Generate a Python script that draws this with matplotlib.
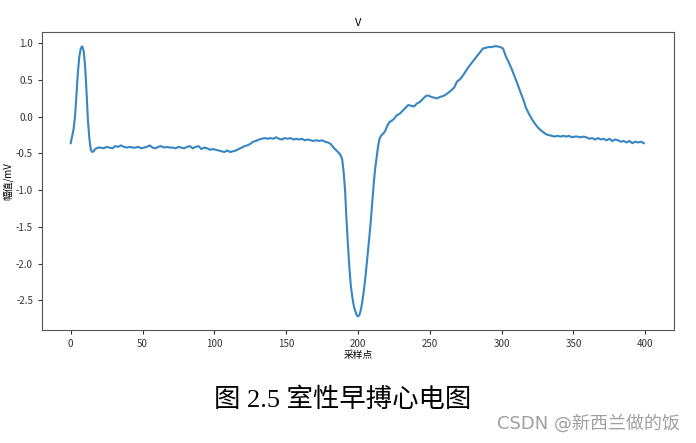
import matplotlib.pyplot as plt

plt.rcParams['font.family'] = ['Noto Sans CJK SC', 'DejaVu Sans']
plt.rcParams['axes.unicode_minus'] = False

# sample index / amplitude (mV)
idx = [0, 2, 3, 4, 5, 6, 7, 8, 9, 10, 11, 12, 13, 14, 15, 16, 17, 19, 21, 23,
       25, 27, 29, 31, 33, 35, 37, 39, 41, 43, 45, 47, 49, 51, 53, 55, 57, 59,
       61, 63, 65, 67, 69, 71, 73, 75, 77, 79, 81, 83, 85, 87, 89, 91, 93, 95,
       97, 99, 101, 103, 105, 107, 109, 111, 113, 115, 117, 119, 121, 123, 125,
       127, 129, 131, 133, 135, 137, 139, 141, 143, 145, 147, 149, 151, 153,
       155, 157, 159, 161, 163, 165, 167, 169, 171, 173, 175, 177, 179, 181,
       183, 185, 187, 188, 189, 190, 191, 192, 193, 194, 195, 196, 197, 198,
       199, 200, 201, 202, 203, 204, 205, 206, 207, 208, 209, 210, 211, 212,
       213, 214, 215, 216, 217, 218, 219, 220, 221, 222, 223, 225, 227, 229,
       231, 233, 235, 237, 239, 241, 243, 245, 247, 249, 251, 253, 255, 257,
       259, 261, 263, 265, 267, 269, 271, 273, 275, 277, 279, 281, 283, 285,
       287, 289, 291, 293, 295, 297, 299, 301, 303, 305, 307, 309, 311, 313,
       315, 317, 319, 321, 323, 325, 327, 329, 331, 333, 335, 337, 339, 341,
       343, 345, 347, 349, 351, 353, 355, 357, 359, 361, 363, 365, 367, 369,
       371, 373, 375, 377, 379, 381, 383, 385, 387, 389, 391, 393, 395, 397,
       399]
amp = [-0.36, -0.17, 0.0, 0.3, 0.6, 0.82, 0.93, 0.96, 0.90, 0.70, 0.35, -0.05,
       -0.30, -0.45, -0.48, -0.47, -0.44, -0.42, -0.42, -0.43, -0.41, -0.42,
       -0.43, -0.40, -0.41, -0.39, -0.41, -0.42, -0.41, -0.42, -0.42, -0.41,
       -0.43, -0.42, -0.41, -0.39, -0.42, -0.43, -0.41, -0.40, -0.42, -0.41,
       -0.42, -0.42, -0.43, -0.41, -0.42, -0.43, -0.41, -0.40, -0.43, -0.41,
       -0.40, -0.44, -0.42, -0.43, -0.45, -0.44, -0.45, -0.46, -0.47, -0.48,
       -0.46, -0.48, -0.47, -0.46, -0.44, -0.42, -0.40, -0.39, -0.37, -0.34,
       -0.33, -0.31, -0.30, -0.29, -0.30, -0.29, -0.30, -0.28, -0.30, -0.31,
       -0.29, -0.30, -0.29, -0.31, -0.30, -0.31, -0.30, -0.32, -0.31, -0.32,
       -0.33, -0.32, -0.33, -0.32, -0.34, -0.35, -0.37, -0.42, -0.46, -0.50,
       -0.53, -0.58, -0.75, -1.0, -1.4, -1.75, -2.05, -2.30, -2.45, -2.57,
       -2.64, -2.70, -2.72, -2.70, -2.63, -2.52, -2.38, -2.22, -2.02, -1.82,
       -1.62, -1.40, -1.15, -0.90, -0.70, -0.55, -0.40, -0.30, -0.26, -0.24,
       -0.22, -0.19, -0.14, -0.10, -0.07, -0.06, -0.03, 0.02, 0.04, 0.08, 0.12,
       0.16, 0.15, 0.14, 0.18, 0.20, 0.24, 0.28, 0.29, 0.27, 0.26, 0.25, 0.27,
       0.28, 0.30, 0.33, 0.36, 0.40, 0.48, 0.51, 0.56, 0.62, 0.68, 0.73, 0.78,
       0.83, 0.88, 0.93, 0.94, 0.95, 0.95, 0.96, 0.96, 0.95, 0.93, 0.82, 0.74,
       0.65, 0.55, 0.45, 0.34, 0.24, 0.12, 0.04, -0.03, -0.09, -0.14, -0.18,
       -0.21, -0.24, -0.25, -0.26, -0.27, -0.26, -0.27, -0.26, -0.27, -0.26,
       -0.28, -0.27, -0.27, -0.28, -0.27, -0.28, -0.30, -0.29, -0.31, -0.29,
       -0.31, -0.30, -0.32, -0.30, -0.33, -0.31, -0.32, -0.34, -0.33, -0.35,
       -0.33, -0.36, -0.34, -0.35, -0.34, -0.36]

fig = plt.figure(figsize=(6.96, 4.43), dpi=100)
ax = fig.add_axes([0.0603, 0.2551, 0.9081, 0.6727])
ax.plot(idx, amp, color='#3686c4', linewidth=1.5)
ax.set_xlim(-20, 420)
ax.set_ylim(-2.905, 1.155)
ax.set_title('V', fontsize=8, pad=4)
ax.set_xlabel('采样点', fontsize=7, labelpad=1)
ax.set_ylabel('幅值/mV', fontsize=7, labelpad=2)
ax.tick_params(labelsize=7, length=3, colors='#333333')
for s in ax.spines.values():
    s.set_color('#555555')

fig.text(0.492, 0.097, '图 2.5 室性早搏心电图', fontsize=19, ha='center', va='center',
         family=['Liberation Serif', 'Noto Sans CJK SC'])
fig.text(0.977, 0.045, 'CSDN @新西兰做的饭', fontsize=13, ha='right', va='center',
         color='#a0a0a0', family=['DejaVu Sans', 'Noto Sans CJK SC'])

fig.savefig('out.png', dpi=100)
